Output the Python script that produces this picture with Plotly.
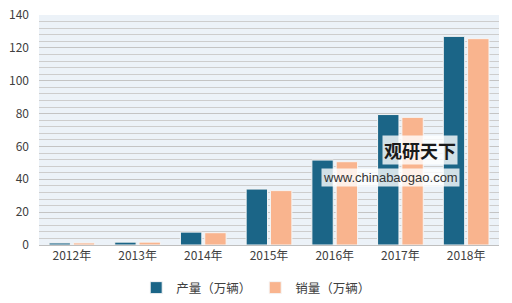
import plotly.graph_objects as go

years = ["2012年", "2013年", "2014年", "2015年", "2016年", "2017年", "2018年"]
production = [1.26, 1.75, 7.85, 34.05, 51.7, 79.4, 127.0]
sales = [1.28, 1.76, 7.48, 33.11, 50.7, 77.7, 125.6]
series_names = ["产量（万辆）", "销量（万辆）"]
y_ticks = [0, 20, 40, 60, 80, 100, 120, 140]

font_family = "Microsoft YaHei, Noto Sans CJK SC, sans-serif"

fig = go.Figure()
fig.add_trace(go.Bar(
    x=years, y=production, name=series_names[0],
    marker=dict(color="#1B6587", line=dict(color="#F5F5F5", width=1)),
))
fig.add_trace(go.Bar(
    x=years, y=sales, name=series_names[1],
    marker=dict(color="#F9B48E", line=dict(color="#F5F5F5", width=1)),
))

fig.update_layout(
    width=512, height=303,
    margin=dict(l=39, r=13, t=15, b=58, autoexpand=False),
    paper_bgcolor="#FFFFFF",
    plot_bgcolor="#ECF2F8",
    bargap=0.26, bargroupgap=0.12,
    font=dict(family=font_family, size=12, color="#404040"),
    showlegend=True,
    legend=dict(
        orientation="h", x=0.47, xanchor="center",
        yref="container", y=0.0, yanchor="bottom",
        font=dict(size=12.5, color="#404040"), bgcolor="rgba(255,255,255,0)",
        itemwidth=30, tracegroupgap=0,
        entrywidth=74, entrywidthmode="pixels",
    ),
    xaxis=dict(
        showgrid=False, showline=True, linecolor="#BFBFBF", linewidth=1,
        ticks="", tickfont=dict(size=12, color="#404040"),
    ),
    yaxis=dict(
        range=[0, 140], tickvals=y_ticks, showgrid=True, gridcolor="#C4C4C4",
        gridwidth=1, zeroline=False, showline=False, ticks="",
        ticklabelstandoff=9,
        tickfont=dict(size=12, color="#404040"),
        minor=dict(dtick=4, showgrid=True, gridcolor="#CDCDCD", gridwidth=1),
    ),
)

# watermark
fig.add_annotation(
    xref="paper", yref="paper", x=0.91, y=0.415, xanchor="right", yanchor="middle",
    text="<b>观研天下</b>", showarrow=False,
    font=dict(size=18, color="#1A1A1A", family=font_family),
    bgcolor="rgba(255,255,255,0.8)",
)
fig.add_annotation(
    xref="paper", yref="paper", x=0.915, y=0.295, xanchor="right", yanchor="middle",
    text="www.chinabaogao.com", showarrow=False,
    font=dict(size=13, color="#333333", family="Arial, Liberation Sans, sans-serif"),
    bgcolor="rgba(255,255,255,0.8)",
)

fig.write_html("out.html")
